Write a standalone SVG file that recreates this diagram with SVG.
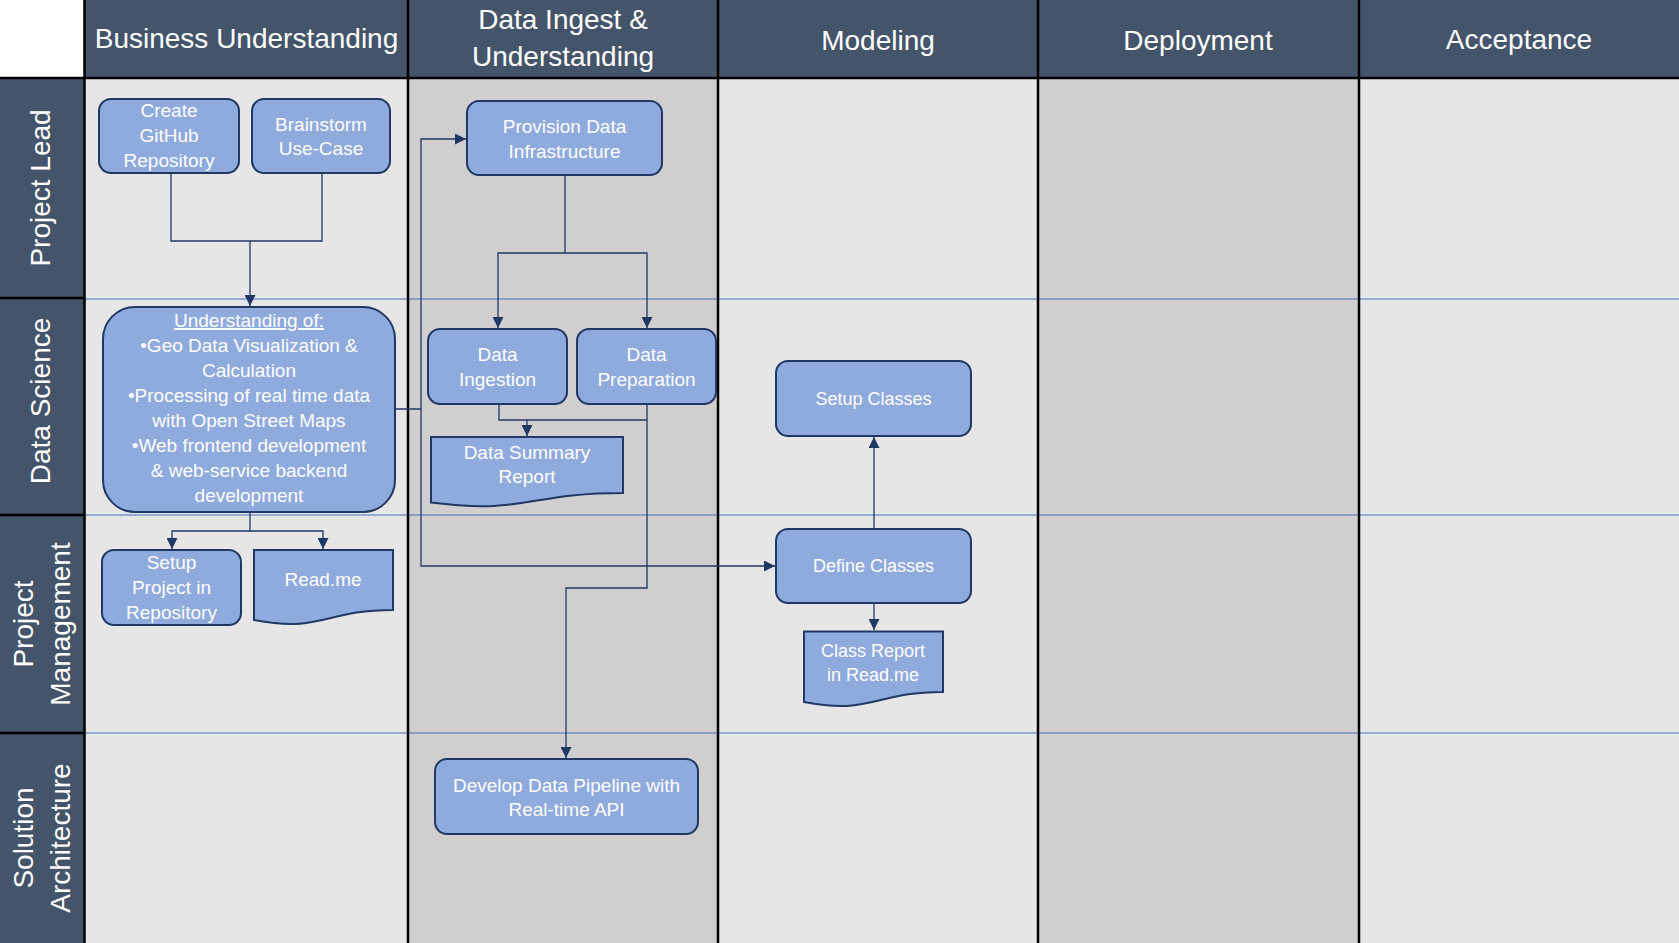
<svg xmlns="http://www.w3.org/2000/svg" width="1679" height="943" viewBox="0 0 1679 943">
<style>
.hdr{fill:#44546A}
.lt{fill:#E7E6E6}
.dk{fill:#D0CECE}
.blk{stroke:#000;stroke-width:2.5;fill:none}
.lane{stroke:#4472C4;stroke-width:1.2;fill:none}
.ht{font-family:"Liberation Sans",Arial,sans-serif;font-size:28px;fill:#fff;text-anchor:middle}
.lbl{font-family:"Liberation Sans",Arial,sans-serif;font-size:28px;fill:#fff;text-anchor:middle}
.node{fill:#8FAADC;stroke:#203864;stroke-width:2}
.nt{font-family:"Liberation Sans",Arial,sans-serif;font-size:19px;fill:#fff;text-anchor:middle}
.nt18{font-family:"Liberation Sans",Arial,sans-serif;font-size:18px;fill:#fff;text-anchor:middle}
.con{stroke:#203864;stroke-width:1.3;fill:none}
</style>
<defs>
<marker id="arr" markerUnits="userSpaceOnUse" markerWidth="11" markerHeight="11" refX="10" refY="5" orient="auto" viewBox="0 0 10 10">
<path d="M0,0 L10,5 L0,10 z" fill="#203864"/>
</marker>
</defs>
<rect x="0" y="0" width="1679" height="943" fill="#fff"/>
<g id="swimlanes">
<rect class="hdr" x="85" y="0" width="1594" height="78"/>
<rect class="hdr" x="0" y="78" width="85" height="865"/>
<rect class="lt" x="85" y="78" width="323" height="865"/>
<rect class="dk" x="408" y="78" width="310" height="865"/>
<rect class="lt" x="718" y="78" width="320" height="865"/>
<rect class="dk" x="1038" y="78" width="321" height="865"/>
<rect class="lt" x="1359" y="78" width="320" height="865"/>
<path class="lane" d="M85,299 H1679 M85,515 H1679 M85,733 H1679"/>
<path class="blk" d="M84.5,0 V943 M408,0 V943 M718,0 V943 M1038,0 V943 M1359,0 V943 M0,78 H1679 M0,298 H85 M0,515 H85 M0,733 H85"/>
<text class="ht" x="246.5" y="48">Business Understanding</text>
<text class="ht" x="563" y="29">Data Ingest &amp;</text>
<text class="ht" x="563" y="66">Understanding</text>
<text class="ht" x="878" y="50">Modeling</text>
<text class="ht" x="1198" y="50">Deployment</text>
<text class="ht" x="1519" y="49">Acceptance</text>
<text class="lbl" transform="translate(50,188) rotate(-90)">Project Lead</text>
<text class="lbl" transform="translate(50,401) rotate(-90)">Data Science</text>
<text class="lbl" transform="translate(33,624) rotate(-90)">Project</text>
<text class="lbl" transform="translate(70,624) rotate(-90)">Management</text>
<text class="lbl" transform="translate(33,838) rotate(-90)">Solution</text>
<text class="lbl" transform="translate(70,838) rotate(-90)">Architecture</text>
</g>
<g id="connectors">
<path class="con" d="M171,173 V241 H322 V173"/>
<path class="con" d="M250,241 V306" marker-end="url(#arr)"/>
<path class="con" d="M395,409 H421 V139 H466" marker-end="url(#arr)"/>
<path class="con" d="M421,409 V566 H775" marker-end="url(#arr)"/>
<path class="con" d="M565,175 V253 H498 V328" marker-end="url(#arr)"/>
<path class="con" d="M565,253 H647 V328" marker-end="url(#arr)"/>
<path class="con" d="M499,404 V420 H647"/>
<path class="con" d="M527,420 V436" marker-end="url(#arr)"/>
<path class="con" d="M647,404 V588 H566 V758" marker-end="url(#arr)"/>
<path class="con" d="M250,512 V531 H172 V549" marker-end="url(#arr)"/>
<path class="con" d="M250,531 H323 V549" marker-end="url(#arr)"/>
<path class="con" d="M874,529 V437" marker-end="url(#arr)"/>
<path class="con" d="M874,603 V630" marker-end="url(#arr)"/>
</g>
<g id="create-github">
<rect class="node" x="99" y="99" width="140" height="74" rx="12"/>
<text class="nt" x="169" y="117">Create</text>
<text class="nt" x="169" y="142">GitHub</text>
<text class="nt" x="169" y="167">Repository</text>
</g>
<g id="brainstorm">
<rect class="node" x="252" y="99" width="138" height="74" rx="12"/>
<text class="nt" x="321" y="131">Brainstorm</text>
<text class="nt" x="321" y="155">Use-Case</text>
</g>
<g id="understanding">
<rect class="node" x="103" y="307" width="292" height="205" rx="32"/>
<text class="nt" x="249" y="327" text-decoration="underline">Understanding of:</text>
<text class="nt" x="249" y="352">•Geo Data Visualization &amp;</text>
<text class="nt" x="249" y="377">Calculation</text>
<text class="nt" x="249" y="402">•Processing of real time data</text>
<text class="nt" x="249" y="427">with Open Street Maps</text>
<text class="nt" x="249" y="452">•Web frontend development</text>
<text class="nt" x="249" y="477">&amp; web-service backend</text>
<text class="nt" x="249" y="502">development</text>
</g>
<g id="setup-project">
<rect class="node" x="102" y="550" width="139" height="75" rx="12"/>
<text class="nt" x="171.5" y="569">Setup</text>
<text class="nt" x="171.5" y="594">Project in</text>
<text class="nt" x="171.5" y="619">Repository</text>
</g>
<g id="readme">
<path class="node" d="M254,550 H393 V610 C323.5,610 323.5,633 254,620 Z"/>
<text class="nt" x="323" y="586">Read.me</text>
</g>
<g id="provision">
<rect class="node" x="467" y="101" width="195" height="74" rx="12"/>
<text class="nt" x="564.5" y="133">Provision Data</text>
<text class="nt" x="564.5" y="158">Infrastructure</text>
</g>
<g id="data-ingestion">
<rect class="node" x="428" y="329" width="139" height="75" rx="12"/>
<text class="nt" x="497.5" y="361">Data</text>
<text class="nt" x="497.5" y="386">Ingestion</text>
</g>
<g id="data-preparation">
<rect class="node" x="577" y="329" width="139" height="75" rx="12"/>
<text class="nt" x="646.5" y="361">Data</text>
<text class="nt" x="646.5" y="386">Preparation</text>
</g>
<g id="data-summary">
<path class="node" d="M431,437 H623 V493 C527,493 527,514.5 431,502.5 Z"/>
<text class="nt" x="527" y="459">Data Summary</text>
<text class="nt" x="527" y="483">Report</text>
</g>
<g id="develop-pipeline">
<rect class="node" x="435" y="759" width="263" height="75" rx="12"/>
<text class="nt" x="566.5" y="792">Develop Data Pipeline with</text>
<text class="nt" x="566.5" y="816">Real-time API</text>
</g>
<g id="setup-classes">
<rect class="node" x="776" y="361" width="195" height="75" rx="12"/>
<text class="nt18" x="873.5" y="405">Setup Classes</text>
</g>
<g id="define-classes">
<rect class="node" x="776" y="529" width="195" height="74" rx="12"/>
<text class="nt18" x="873.5" y="572">Define Classes</text>
</g>
<g id="class-report">
<path class="node" d="M804,631.5 H943 V692 C873.5,692 873.5,715 804,702 Z"/>
<text class="nt18" x="873" y="657">Class Report</text>
<text class="nt18" x="873" y="681">in Read.me</text>
</g>
</svg>
